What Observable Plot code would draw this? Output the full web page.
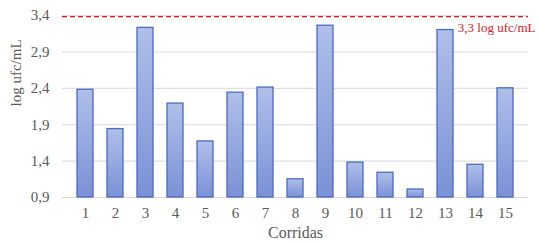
<!DOCTYPE html>
<html><head><meta charset="utf-8">
<script src="https://cdn.jsdelivr.net/npm/d3@7"></script>
<script src="https://cdn.jsdelivr.net/npm/@observablehq/plot@0.6"></script>
<style>body{margin:0;background:#fff}</style>
</head><body><div id="chart"></div>
<script>
const runs = ["1","2","3","4","5","6","7","8","9","10","11","12","13","14","15"];
const values = [2.38,1.84,3.23,2.19,1.67,2.34,2.41,1.15,3.26,1.38,1.24,1.01,3.20,1.35,2.40];
const yTicks = [0.9,1.4,1.9,2.4,2.9,3.4];
const limitValue = 3.385;
const limitLabel = "3,3 log ufc/mL";
const xTitle = "Corridas";
const yTitle = "log ufc/mL";
const data = runs.map((r,i)=>({run:r, v:values[i]}));
const fmt = d => d.toFixed(1).replace(".", ",");
const chart = Plot.plot({
  width: 538, height: 245,
  marginLeft: 62, marginRight: 10, marginTop: 15, marginBottom: 48,
  style: {fontFamily: "Liberation Serif", fontSize: "15px", color: "#595959", background: "#fff"},
  x: {domain: runs, padding: 0.46, label: null, tickSize: 0, tickPadding: 10},
  y: {domain: [0.9, 3.4], ticks: yTicks, tickFormat: fmt, label: null, tickSize: 0, tickPadding: 13},
  marks: [
    Plot.ruleY(yTicks, {stroke: "#d9d9d9", strokeWidth: 1}),
    Plot.barY(data, {x: "run", y1: 0.9, y2: "v", fill: "url(#barGrad)", stroke: "#4a6bc0", strokeWidth: 1.3}),
    Plot.ruleY([limitValue], {stroke: "#e0141e", strokeWidth: 1.4, strokeDasharray: "5,3"}),
    Plot.text([limitLabel], {frameAnchor: "top-right", dx: 7, dy: 7, text: d => d, fill: "#e0141e", fontSize: 13, textAnchor: "end", stroke: "#fff", strokeWidth: 5}),
    Plot.ruleY([3.4], {stroke: "#d9d9d9", strokeWidth: 1}),
    Plot.text([xTitle], {frameAnchor: "bottom", dy: 40, text: d => d, fill: "#595959", fontSize: 16}),
    Plot.text([yTitle], {frameAnchor: "left", dx: -46, rotate: -90, text: d => d, fill: "#595959", fontSize: 15})
  ]
});
const ns = "http://www.w3.org/2000/svg";
const defs = document.createElementNS(ns, "defs");
defs.innerHTML = '<linearGradient id="barGrad" x1="0" y1="0" x2="0" y2="1"><stop offset="0" stop-color="#b0bfe9"/><stop offset="1" stop-color="#7a91d6"/></linearGradient>';
chart.insertBefore(defs, chart.firstChild);
document.getElementById("chart").appendChild(chart);
</script></body></html>
